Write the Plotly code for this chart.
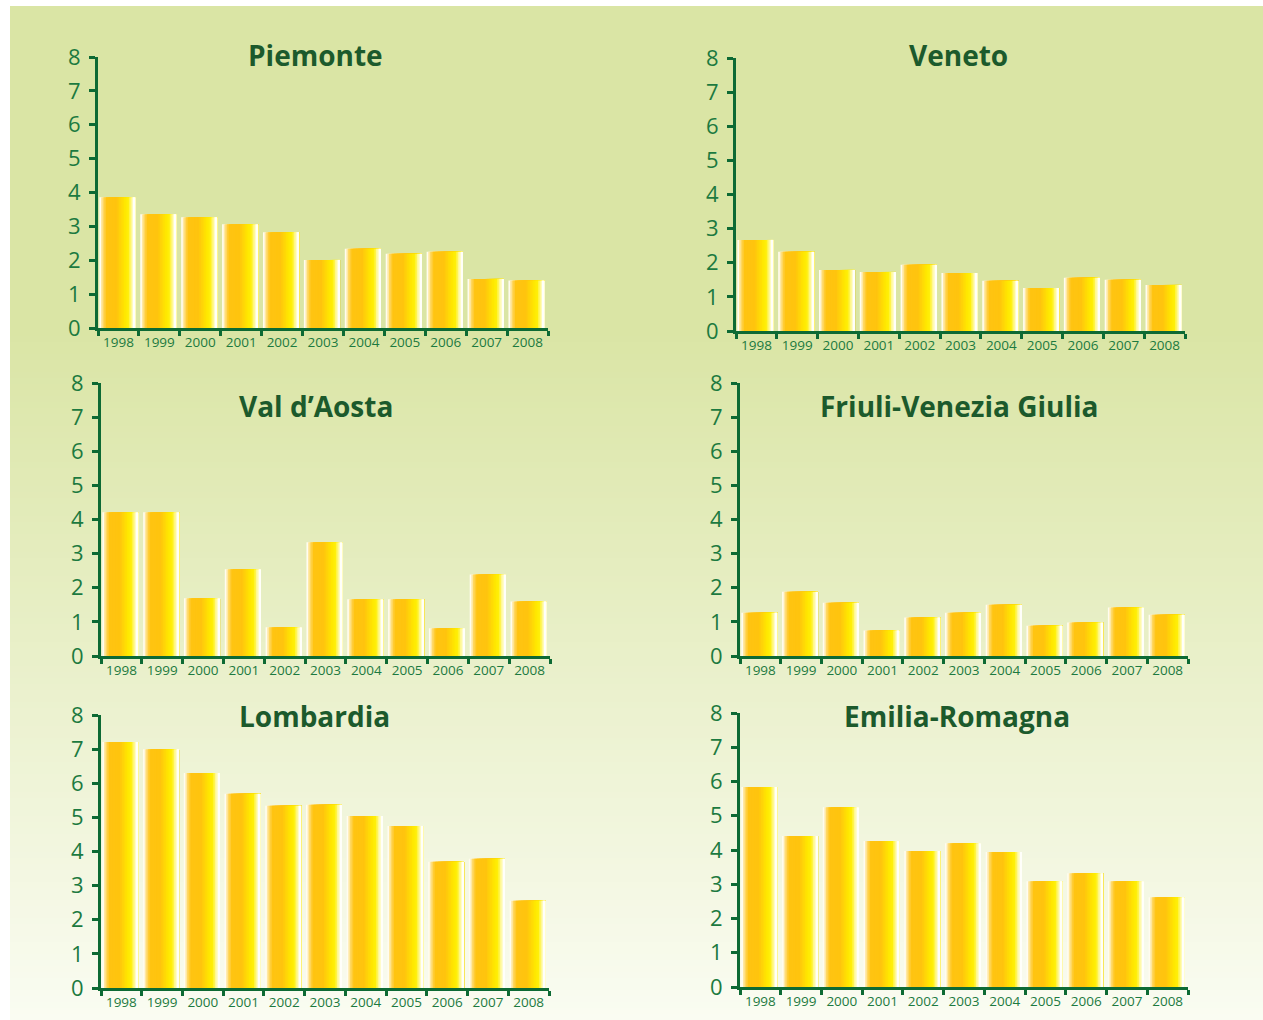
import plotly.graph_objects as go

W, H = 1263, 1020

years = ["1998", "1999", "2000", "2001", "2002", "2003", "2004", "2005", "2006", "2007", "2008"]

piemonte = [3.86, 3.36, 3.27, 3.06, 2.83, 2.01, 2.34, 2.19, 2.25, 1.45, 1.40]
veneto = [2.67, 2.32, 1.79, 1.73, 1.94, 1.70, 1.47, 1.26, 1.56, 1.50, 1.35]
val_daosta = [4.21, 4.21, 1.69, 2.54, 0.84, 3.33, 1.66, 1.66, 0.81, 2.39, 1.60]
friuli = [1.27, 1.88, 1.56, 0.75, 1.13, 1.27, 1.50, 0.89, 0.98, 1.42, 1.21]
lombardia = [7.21, 7.00, 6.30, 5.69, 5.34, 5.37, 5.04, 4.75, 3.70, 3.79, 2.56]
emilia = [5.84, 4.41, 5.25, 4.26, 3.97, 4.20, 3.94, 3.09, 3.32, 3.09, 2.62]

titles = ["Piemonte", "Veneto", "Val d\u2019Aosta", "Friuli-Venezia Giulia", "Lombardia", "Emilia-Romagna"]
series = [piemonte, veneto, val_daosta, friuli, lombardia, emilia]

# panel geometry in pixels: (x_left, x_right, y_zero, y_eight, title_x, title_y)
panels = [
    (98, 548, 328, 57, 315, 55),
    (736, 1185, 331, 58, 958, 55),
    (101, 550, 656, 383, 316, 406),
    (740, 1188, 656, 383, 959, 406),
    (101, 549, 988, 715, 314, 716),
    (740, 1188, 987, 713, 957, 716),
]

AXIS = "#0d6a34"
TICKTXT = "#1c7a40"
TITLE = "#1c5a2c"

# horizontal gradient of each bar (fraction, rgb)
stops = [
    (0.00, (255, 252, 240)),
    (0.08, (255, 218, 110)),
    (0.18, (255, 196, 18)),
    (0.48, (255, 196, 14)),
    (0.72, (255, 232, 0)),
    (0.82, (255, 240, 10)),
    (0.92, (255, 250, 170)),
    (1.00, (255, 255, 250)),
]


def grad(t):
    for (a, ca), (b, cb) in zip(stops[:-1], stops[1:]):
        if a <= t <= b:
            f = 0 if b == a else (t - a) / (b - a)
            c = [round(ca[i] + (cb[i] - ca[i]) * f) for i in range(3)]
            return "rgb(%d,%d,%d)" % tuple(c)
    return "rgb(%d,%d,%d)" % stops[-1][1]


fig = go.Figure()
N = 22
bar_start = -0.467
bar_w = 0.883
layout = {}

for k, (vals, title, geo) in enumerate(zip(series, titles, panels), start=1):
    xl, xr, y0, y8, tx, ty = geo
    sfx = "" if k == 1 else str(k)
    for i in range(N):
        t = i / (N - 1)
        off = bar_start + bar_w * i / N
        fig.add_trace(go.Bar(
            x=years, y=vals,
            xaxis="x" + sfx, yaxis="y" + sfx,
            offset=off, width=bar_w - bar_w * i / N,
            marker=dict(color=grad(t), line=dict(width=0)),
            hoverinfo="skip", showlegend=False,
        ))
    layout["xaxis" + sfx] = dict(
        domain=[xl / W, xr / W], anchor="y" + sfx, type="category",
        range=[-0.5, 10.5], tickson="boundaries", ticks="outside",
        ticklen=5, tickwidth=3, tickcolor=AXIS, showline=True, linewidth=3,
        linecolor=AXIS, showgrid=False, zeroline=False, automargin=False,
        tickangle=0,
        tickfont=dict(family="Open Sans", size=13.5, color=TICKTXT),
        fixedrange=True,
    )
    layout["yaxis" + sfx] = dict(
        domain=[1 - y0 / H, 1 - y8 / H], anchor="x" + sfx,
        range=[0, 8], dtick=1, tick0=0, ticks="outside", ticklen=6,
        tickwidth=3, tickcolor=AXIS, showline=True, linewidth=3,
        linecolor=AXIS, showgrid=False, zeroline=False, automargin=False,
        ticklabelstandoff=4,
        tickfont=dict(family="Open Sans", size=22, color=TICKTXT),
        fixedrange=True,
    )
    fig.add_annotation(
        x=tx / W, y=1 - ty / H, xref="paper", yref="paper",
        text="<b>%s</b>" % title, showarrow=False,
        font=dict(family="Open Sans", size=28, color=TITLE),
        xanchor="center", yanchor="middle",
    )

# background: solid top then vertical fade to near white
shapes = []
top_c = (218, 229, 165)
bot_c = (250, 252, 242)
fade_start, fade_end = 330, 1020
shapes.append(dict(type="rect", xref="paper", yref="paper",
                   x0=10 / W, x1=1, y0=1 - (fade_start + 4) / H, y1=1 - 6 / H,
                   fillcolor="rgb(%d,%d,%d)" % top_c, line=dict(width=0),
                   layer="below"))
step = 6
y = fade_start
while y < fade_end:
    f = (y - fade_start + step / 2) / (fade_end - fade_start)
    c = tuple(round(top_c[i] + (bot_c[i] - top_c[i]) * f) for i in range(3))
    shapes.append(dict(type="rect", xref="paper", yref="paper",
                       x0=10 / W, x1=1, y0=1 - min(y + step + 2, fade_end) / H,
                       y1=1 - y / H, fillcolor="rgb(%d,%d,%d)" % c,
                       line=dict(width=0), layer="below"))
    y += step

fig.update_layout(
    width=W, height=H,
    margin=dict(l=0, r=0, t=0, b=0, pad=0, autoexpand=False),
    paper_bgcolor="white", plot_bgcolor="rgba(0,0,0,0)",
    barmode="overlay", showlegend=False, shapes=shapes,
    **layout,
)

fig.write_html("out.html", config={"displayModeBar": False})
